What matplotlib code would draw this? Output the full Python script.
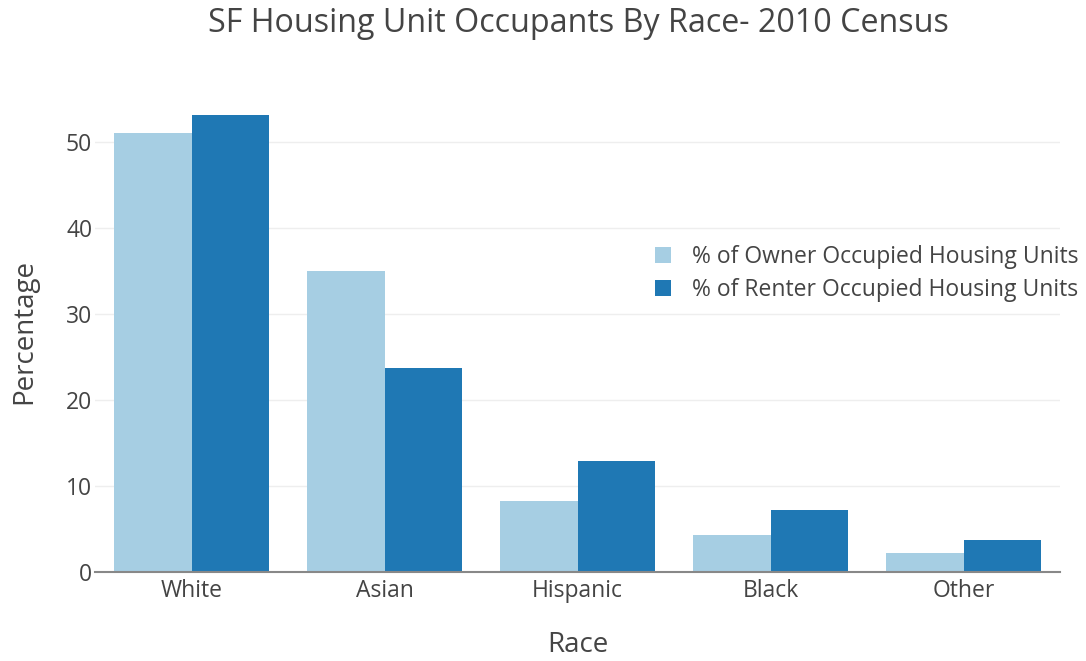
import numpy as np
import matplotlib.pyplot as plt
import matplotlib as mpl

mpl.rcParams['font.family'] = ['Open Sans', 'DejaVu Sans']

races = ['White', 'Asian', 'Hispanic', 'Black', 'Other']
owner = [51.0, 35.0, 8.3, 4.3, 2.2]
renter = [53.1, 23.7, 12.9, 7.2, 3.7]
owner_lbl = '% of Owner Occupied Housing Units'
renter_lbl = '% of Renter Occupied Housing Units'

txt = '#444444'

fig = plt.figure(figsize=(10.86, 6.61), dpi=100)
ax = fig.add_axes([95 / 1086, 1 - 572 / 661, 965 / 1086, 480 / 661])

x = np.arange(len(races))
w = 0.4
ax.bar(x - w / 2, owner, w, color='#a6cee3', label=owner_lbl, zorder=2)
ax.bar(x + w / 2, renter, w, color='#1f78b4', label=renter_lbl, zorder=2)

ax.set_xlim(-0.5, len(races) - 0.5)
ax.set_ylim(0, 55.8)
ax.set_yticks([0, 10, 20, 30, 40, 50])
ax.set_xticks(x)
ax.set_xticklabels(races)
ax.tick_params(length=0, labelsize=16.5, colors=txt, pad=5)
ax.tick_params(axis='y', pad=2)
ax.grid(axis='y', color='#eeeeee', linewidth=1, zorder=0)
for s in ['top', 'right', 'left']:
    ax.spines[s].set_visible(False)
ax.spines['bottom'].set_color('#888888')
ax.spines['bottom'].set_linewidth(1.5)
ax.spines['bottom'].set_zorder(3)

ax.set_xlabel('Race', fontsize=20, color=txt, labelpad=20)
ax.set_ylabel('Percentage', fontsize=20, color=txt, labelpad=20)

leg = ax.legend(loc='upper left', bbox_to_anchor=(0.559, 0.725), frameon=False,
                fontsize=16.5, handlelength=0.7, handleheight=0.7,
                handletextpad=0.9, labelspacing=0.4, labelcolor=txt)

fig.suptitle('SF Housing Unit Occupants By Race- 2010 Census', fontsize=23.2,
             color=txt, x=578 / 1086, y=1 - 23 / 661, va='center')

plt.savefig('out.png')
